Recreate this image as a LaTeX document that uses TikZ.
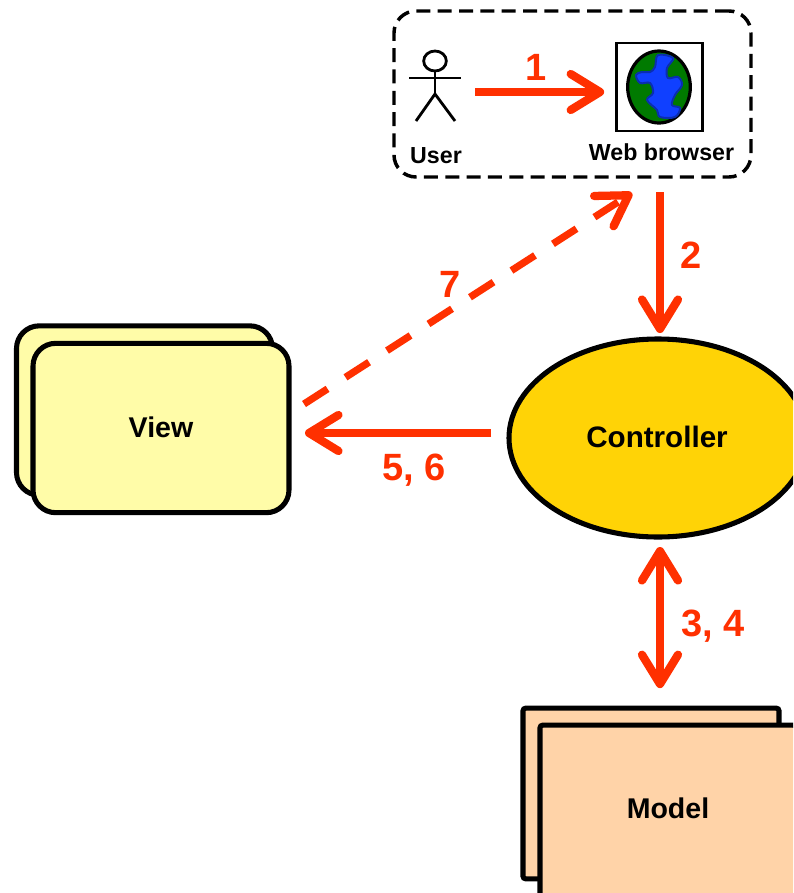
\documentclass[tikz,border=0pt]{standalone}
\usepackage{fontspec}
\setmainfont{Liberation Sans}
\usetikzlibrary{arrows.meta,shapes.geometric}
\definecolor{redarrow}{HTML}{FF3000}
\definecolor{viewfill}{HTML}{FFFCA8}
\definecolor{modelfill}{HTML}{FFD3A8}
\definecolor{ctrlfill}{HTML}{FFD306}
\definecolor{globegreen}{HTML}{007A00}
\definecolor{globeblue}{HTML}{1040FF}
\definecolor{globeedge}{HTML}{0A2EB0}
\tikzset{
  x=0.75pt,y=-0.75pt,
  barbtip/.tip={Straight Barb[length=22pt,width=27pt,round,line width=6.2pt]},
  flow/.style={draw=redarrow,line width=5.4pt,-barbtip},
  flowboth/.style={draw=redarrow,line width=5.4pt,barbtip-barbtip},
  flowdash/.style={flow,dash pattern=on 21pt off 16pt},
  redlabel/.style={text=redarrow,font=\fontsize{28.5}{31}\bfseries\selectfont,inner sep=0pt},
  smalllabel/.style={font=\fontsize{17.4}{20}\bfseries\selectfont,inner sep=0pt},
  biglabel/.style={font=\fontsize{21.4}{24}\bfseries\selectfont},
  sheet/.style={draw=black,line width=3.8pt,rectangle,inner sep=0pt,outer sep=0pt},
  viewsheet/.style={sheet,fill=viewfill,rounded corners=17pt,minimum width=192pt,minimum height=127pt},
  modelsheet/.style={sheet,fill=modelfill,rounded corners=2pt,minimum width=192pt,minimum height=128pt},
  stick/.style={draw=black,line width=2.1pt},
}
\begin{document}
\begin{tikzpicture}
\clip (0,0) rectangle (793,893);
\useasboundingbox (0,0) rectangle (793,893);
\fill[white] (0,0) rectangle (793,893);
% user and browser group
\node[draw=black,line width=2.6pt,dash pattern=on 10.5pt off 5.5pt,rounded corners=16.5pt,rectangle,inner sep=0pt,outer sep=0pt,minimum width=267.75pt,minimum height=124.5pt] (group) at (572.5,94) {};
\node[draw=black,line width=2.1pt,ellipse,inner sep=0pt,minimum width=17pt,minimum height=15pt] (head) at (435,61) {};
\coordinate (hip) at (435,94);
\coordinate (armL) at (409,78);
\coordinate (armR) at (461,78);
\coordinate (legL) at (416,121);
\coordinate (legR) at (455,121);
\draw[stick] (head.south) -- (hip);
\draw[stick] (armL) -- (armR);
\draw[stick] (legL) -- (hip) -- (legR);
\node[smalllabel] (userlabel) at (436,156) {User};
\node[draw=black,line width=2.2pt,rectangle,inner sep=0pt,outer sep=0pt,minimum width=65pt,minimum height=66pt] (browser) at (659.5,87) {};
\node[draw=black,line width=2.4pt,fill=globegreen,ellipse,inner sep=0pt,minimum width=47pt,minimum height=54pt] (globe) at (659,87) {};
\draw[draw=globeedge,fill=globeblue,line width=1.5pt] plot[smooth cycle,tension=0.6] coordinates {(658,55)(673,58)(667,68)(668,78)(678,77)(682,85)(675,95)(672,105)(680,108)(675,117)(660,117)(657,110)(647,100)(653,93)(650,83)(640,83)(636,75)(642,72)(650,72)(655,67)};
\node[smalllabel] (browserlabel) at (661.5,152) {Web browser};
% view
\node[viewsheet] (viewback) at (144.5,410.5) {};
\node[viewsheet,biglabel] (view) at (161,428) {\raisebox{2pt}{View}};
% controller
\node[draw=black,line width=3.8pt,fill=ctrlfill,ellipse,inner sep=0pt,outer sep=0pt,minimum width=223.5pt,minimum height=148.5pt,font=\fontsize{22.2}{24}\bfseries\selectfont] (ctrl) at (658,438) {\hspace*{-1.5pt}\raisebox{1.5pt}{Controller}};
% model
\node[modelsheet] (modelback) at (651,793.5) {};
\node[modelsheet,biglabel] (modelfront) at (668,810.5) {\raisebox{3pt}{Model}};
% connectors
\draw[flow] ([shift={(-141,5)}]browser.west) -- ([shift={(-12,5)}]browser.west);
\draw[flow] ([shift={(87.5,15)}]group.south) -- ([shift={(2,-6)}]ctrl.north);
\draw[flowboth] ([shift={(2,10)}]ctrl.south) -- ([shift={(9,-20)}]modelback.north);
\draw[flow] ([shift={(-18,-5)}]ctrl.west) -- ([shift={(16,5)}]view.east);
\draw[flowdash] ([shift={(15,-24)}]view.east) -- ([shift={(59.5,16)}]group.south);
% labels
\node[redlabel] (n1) at (536,67) {1};
\node[redlabel] (n2) at (691,255) {2};
\node[redlabel] (n34) at (713,626) {3, 4};
\node[redlabel] (n56) at (414,470) {5, 6};
\node[redlabel] (n7) at (450,284) {7};
\end{tikzpicture}
\end{document}
